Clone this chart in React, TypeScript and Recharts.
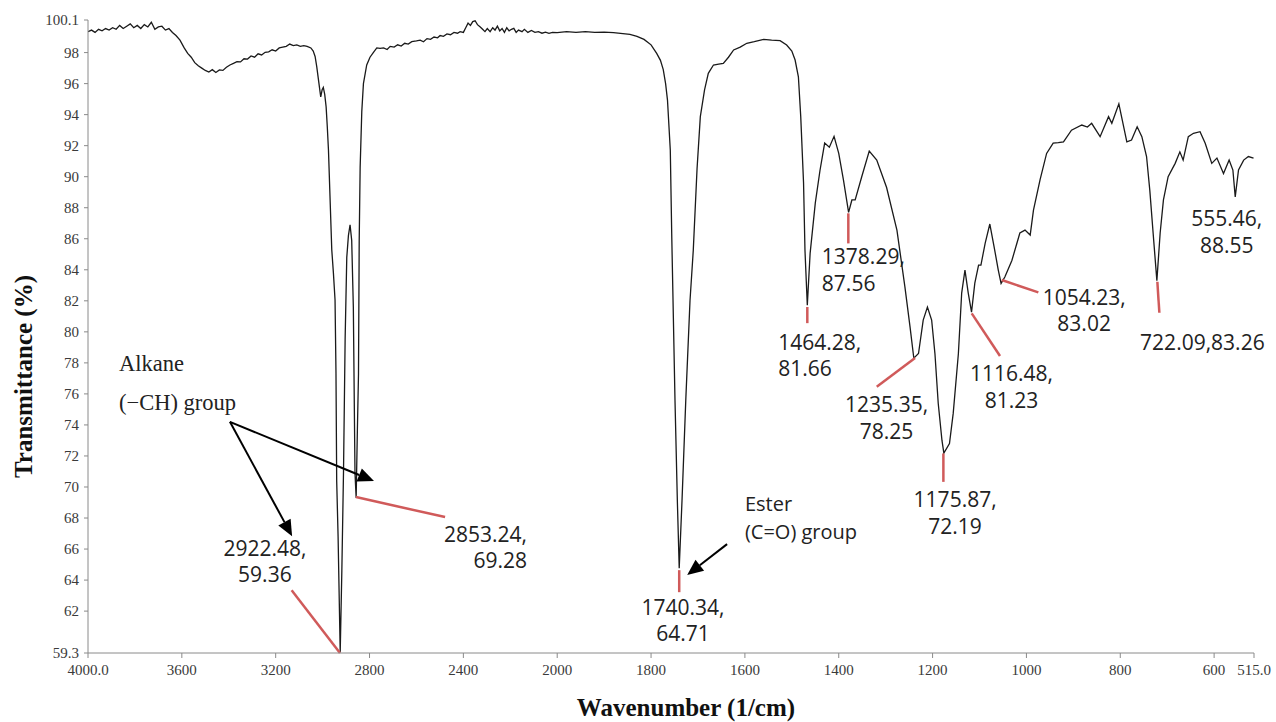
import { LineChart, Line, XAxis, YAxis, ReferenceLine, ReferenceDot } from 'recharts';

// FTIR spectrum (wavenumber 1/cm, transmittance %)
const wavenumbers = [
  4000, 3985, 3970, 3955, 3940, 3925, 3910, 3895, 3880, 3865, 3850, 3835, 3820, 3805, 3790, 3775, 3760, 3745, 3730, 3715,
  3700, 3685, 3670, 3655, 3640, 3625, 3608, 3590, 3575, 3560, 3545, 3530, 3515, 3500, 3485, 3470, 3455, 3440, 3425, 3410,
  3395, 3380, 3365, 3350, 3335, 3320, 3305, 3290, 3275, 3260, 3245, 3230, 3215, 3200, 3185, 3170, 3155, 3140, 3125, 3110,
  3095, 3080, 3066, 3050, 3040, 3032, 3025, 3019, 3012, 3008, 3002, 2997, 2991, 2985, 2980, 2975, 2968, 2961, 2954, 2947,
  2943, 2940, 2934, 2925, 2918, 2911, 2904, 2897, 2890, 2883, 2876, 2869, 2862, 2857, 2852, 2847, 2844, 2840, 2833, 2826,
  2812, 2798, 2784, 2769, 2755, 2740, 2725, 2712, 2695, 2680, 2665, 2650, 2635, 2620, 2600, 2584, 2570, 2555, 2540, 2525,
  2510, 2499, 2485, 2470, 2455, 2440, 2425, 2414, 2400, 2390, 2380, 2370, 2360, 2350, 2340, 2328, 2318, 2308, 2298, 2286,
  2275, 2265, 2255, 2245, 2235, 2225, 2215, 2205, 2195, 2185, 2175, 2165, 2150, 2140, 2125, 2110, 2095, 2080, 2065, 2050,
  2035, 2020, 2000, 1980, 1960, 1940, 1920, 1900, 1880, 1860, 1845, 1830, 1815, 1800, 1788, 1780, 1774, 1769, 1765, 1759,
  1756, 1749, 1744, 1740, 1734, 1726, 1717, 1710, 1702, 1695, 1686, 1678, 1667, 1656, 1646, 1635, 1624, 1610, 1596, 1580,
  1560, 1543, 1525, 1511, 1500, 1493, 1486, 1481, 1475, 1472, 1467, 1461, 1450, 1440, 1430, 1420, 1410, 1400, 1390, 1379,
  1372, 1365, 1351, 1335, 1319, 1298, 1276, 1259, 1248, 1240, 1230, 1220, 1211, 1202, 1195, 1188, 1180, 1176, 1164, 1156,
  1145, 1138, 1131, 1124, 1117, 1110, 1102, 1097, 1088, 1078, 1069, 1060, 1054, 1046, 1031, 1014, 1003, 992, 985, 971,
  957, 943, 932, 921, 904, 882, 870, 861, 843, 825, 818, 803, 786, 776, 764, 754, 744, 737, 730, 722,
  715, 708, 698, 683, 673, 666, 655, 644, 630, 619, 605, 594, 580, 568, 560, 555, 548, 537, 527, 516,
];

const transmittance = [
  99.35, 99.45, 99.3, 99.5, 99.4, 99.55, 99.45, 99.6, 99.5, 99.75, 99.55, 99.7, 99.85, 99.6, 99.75, 99.55, 99.8, 99.65, 99.95, 99.5,
  99.65, 99.7, 99.45, 99.55, 99.3, 99.1, 98.8, 98.3, 97.95, 97.7, 97.35, 97.15, 97.0, 96.85, 96.75, 96.9, 96.72, 96.88, 96.85, 97.05,
  97.2, 97.3, 97.42, 97.4, 97.6, 97.58, 97.78, 97.7, 97.92, 97.85, 98.02, 98.05, 98.18, 98.1, 98.3, 98.35, 98.4, 98.55, 98.45, 98.5,
  98.4, 98.45, 98.4, 98.3, 98.1, 97.75, 97.1, 96.4, 95.6, 95.15, 95.6, 95.75, 95.3, 94.5, 93.2, 91.7, 88.5, 85.3, 83.8, 82.05,
  77.35, 70.4, 66.8, 59.35, 64.6, 70.9, 79.5, 84.8, 86.2, 86.9, 85.9, 81.6, 70.9, 69.3, 73.5, 77.3, 85.9, 90.6, 94.2, 96.0,
  97.2, 97.7, 98.0, 98.3, 98.27, 98.3, 98.2, 98.4, 98.35, 98.5, 98.42, 98.6, 98.55, 98.7, 98.75, 98.8, 98.7, 98.9, 98.85, 99.0,
  98.95, 99.1, 99.05, 99.2, 99.15, 99.3, 99.25, 99.35, 99.3, 99.6, 99.9, 99.75, 100.0, 100.05, 99.8, 99.65, 99.5, 99.35, 99.55, 99.35,
  99.6, 99.45, 99.7, 99.4, 99.55, 99.3, 99.6, 99.4, 99.5, 99.56, 99.3, 99.45, 99.35, 99.5, 99.3, 99.42, 99.3, 99.35, 99.25, 99.32,
  99.24, 99.3, 99.28, 99.35, 99.3, 99.35, 99.3, 99.32, 99.28, 99.22, 99.18, 99.05, 98.85, 98.5, 97.95, 97.5, 96.9, 96.0, 94.94, 91.7,
  86.35, 75.6, 69.15, 64.77, 69.15, 75.6, 82.0, 85.27, 90.5, 93.87, 95.6, 96.66, 97.2, 97.25, 97.3, 97.7, 98.17, 98.35, 98.6, 98.7,
  98.85, 98.8, 98.77, 98.49, 98.1, 97.52, 96.44, 93.87, 89.6, 85.27, 81.72, 85.06, 88.3, 90.4, 92.17, 91.9, 92.6, 91.5, 89.8, 87.7,
  88.5, 88.5, 90.0, 91.65, 91.07, 89.3, 86.56, 82.9, 80.3, 78.3, 78.6, 80.76, 81.6, 80.76, 78.6, 75.4, 73.0, 72.18, 72.8, 74.76,
  78.6, 82.5, 83.98, 82.5, 81.27, 83.14, 84.3, 84.3, 85.7, 86.95, 85.5, 83.98, 83.12, 83.53, 84.6, 86.37, 86.56, 86.24, 87.85, 89.8,
  91.5, 92.17, 92.2, 92.25, 93.0, 93.33, 93.2, 93.44, 92.58, 93.87, 93.44, 94.7, 92.25, 92.36, 93.22, 92.58, 91.3, 89.1, 86.37, 83.3,
  86.37, 88.5, 90.0, 90.86, 91.6, 91.07, 92.58, 92.8, 92.9, 92.15, 90.86, 91.2, 90.2, 91.07, 90.43, 88.7, 90.43, 91.07, 91.3, 91.2,
];

const xTickValues = [4000, 3600, 3200, 2800, 2400, 2000, 1800, 1600, 1400, 1200, 1000, 800, 600, 515];
const xTickLabels = ['4000.0', '3600', '3200', '2800', '2400', '2000', '1800', '1600', '1400', '1200', '1000', '800', '600', '515.0'];
const yTickValues = [59.3, 62, 64, 66, 68, 70, 72, 74, 76, 78, 80, 82, 84, 86, 88, 90, 92, 94, 96, 98, 100.1];
const yTickLabels = yTickValues.map((v) => String(v));

// peak call-outs: red leader from the peak to the label
const leaders = [
  { from: [2926, 59.3], to: [3132, 63.35] },
  { from: [2858, 69.35], to: [2478, 68.06] },
  { from: [1740, 64.64], to: [1740, 63.22] },
  { from: [1467, 81.6], to: [1467, 80.56] },
  { from: [1379.6, 87.64], to: [1379.6, 85.7] },
  { from: [1237.4, 78.31], to: [1319, 76.46] },
  { from: [1177, 72.16], to: [1177, 70.33] },
  { from: [1116.6, 81.19], to: [1056.3, 78.44] },
  { from: [1052.6, 83.34], to: [974.6, 82.54] },
  { from: [721, 83.23], to: [716.7, 81.23] },
];

const peakLabels = [
  { lines: ['2922.48,', '59.36'], wn: 3246, t: 66.08, anchor: 'middle' },
  { lines: ['2853.24,', '69.28'], wn: 2129, t: 67.0, anchor: 'end' },
  { lines: ['1740.34,', '64.71'], wn: 1732, t: 62.27, anchor: 'middle' },
  { lines: ['1464.28,', '81.66'], wn: 1529, t: 79.36, anchor: 'start' },
  { lines: ['1378.29,', '87.56'], wn: 1436, t: 84.88, anchor: 'start' },
  { lines: ['1235.35,', '78.25'], wn: 1298, t: 75.32, anchor: 'middle' },
  { lines: ['1175.87,', '72.19'], wn: 1152, t: 69.22, anchor: 'middle' },
  { lines: ['1116.48,', '81.23'], wn: 1032, t: 77.32, anchor: 'middle' },
  { lines: ['1054.23,', '83.02'], wn: 877, t: 82.26, anchor: 'middle' },
  { lines: ['722.09,83.26'], wn: 625, t: 79.36, anchor: 'middle' },
  { lines: ['555.46,', '88.55'], wn: 573, t: 87.31, anchor: 'middle' },
];

const groupNotes = [
  { lines: ['Alkane', '(\u2212CH) group'], wn: 3868, t: 77.99, gap: 39, serif: true },
  { lines: ['Ester', '(C=O) group'], wn: 1600, t: 68.94, gap: 27.7, serif: false },
];

const arrows = [
  { from: [3395, 74.2], to: [2781, 70.38] },
  { from: [3395, 74.2], to: [3130, 66.83] },
  { from: [1638, 66.32], to: [1723, 64.32] },
];

// IR convention: the axis is compressed 2x above 2000 1/cm
const toAxis = (w: number) => (w > 2000 ? 2000 + (w - 2000) / 2 : w);

const data = wavenumbers.map((w, i) => ({ x: toAxis(w), t: transmittance[i] }));

const sans = "'Open Sans', sans-serif";
const serif = "'Liberation Serif', serif";
const axisGray = '#8a8a8a';

function arrowShape(p: any) {
  const { x1, y1, x2, y2 } = p;
  const a = Math.atan2(y2 - y1, x2 - x1);
  const len = 16;
  const half = 7;
  const bx = x2 - len * Math.cos(a);
  const by = y2 - len * Math.sin(a);
  const nx = -Math.sin(a);
  const ny = Math.cos(a);
  return (
    <g>
      <line x1={x1} y1={y1} x2={bx} y2={by} stroke="#000" strokeWidth={2} />
      <polygon
        points={`${x2},${y2} ${bx + nx * half},${by + ny * half} ${bx - nx * half},${by - ny * half}`}
        fill="#000"
      />
    </g>
  );
}

const tickStyle = { fontFamily: serif, fontSize: 15, fill: '#3a3a3a' };

function XTick(p: any) {
  return (
    <text x={p.x} y={p.y} dy="0.71em" textAnchor="middle" style={tickStyle}>
      {xTickLabels[p.index]}
    </text>
  );
}

function YTick(p: any) {
  return (
    <text x={p.x} y={p.y} dy="0.35em" textAnchor="end" style={tickStyle}>
      {yTickLabels[p.index]}
    </text>
  );
}

export default function App() {
  return (
    <div style={{ position: 'absolute', left: 0, top: 0, width: 1276, height: 722, background: '#fff' }}>
      <LineChart width={1276} height={722} data={data} margin={{ top: 20, right: 22, left: 0, bottom: 0 }}>
        <XAxis
          dataKey="x"
          type="number"
          domain={[515, 3000]}
          reversed
          allowDataOverflow
          ticks={xTickValues.map(toAxis)}
          interval={0}
          height={69}
          stroke={axisGray}
          tickSize={5}
          tickMargin={6}
          tick={<XTick />}
          label={{
            content: (props: any) => {
              const vb = props.viewBox;
              return (
                <text
                  x={vb.x + vb.width / 2 + 15}
                  y={vb.y + vb.height - 6}
                  textAnchor="middle"
                  style={{ fontFamily: serif, fontWeight: 'bold', fontSize: 25, fill: '#111' }}
                >
                  Wavenumber (1/cm)
                </text>
              );
            },
          }}
        />
        <YAxis
          type="number"
          domain={[59.3, 100.1]}
          allowDataOverflow
          ticks={yTickValues}
          interval={0}
          width={88}
          stroke={axisGray}
          tickSize={4}
          tickMargin={5}
          tick={<YTick />}
          label={{
            content: (props: any) => {
              const vb = props.viewBox;
              const cx = vb.x + 23;
              const cy = vb.y + vb.height / 2 + 40;
              return (
                <text
                  transform={`translate(${cx},${cy}) rotate(-90)`}
                  textAnchor="middle"
                  dy="0.35em"
                  style={{ fontFamily: serif, fontWeight: 'bold', fontSize: 25, fill: '#111' }}
                >
                  Transmittance (%)
                </text>
              );
            },
          }}
        />
        <Line
          type="linear"
          dataKey="t"
          stroke="#1a1a1a"
          strokeWidth={1.3}
          dot={false}
          activeDot={false}
          isAnimationActive={false}
        />
        {leaders.map((l, i) => (
          <ReferenceLine
            key={`ld${i}`}
            ifOverflow="visible"
            segment={[
              { x: toAxis(l.from[0]), y: l.from[1] },
              { x: toAxis(l.to[0]), y: l.to[1] },
            ]}
            stroke="#d05a5a"
            strokeWidth={2.5}
          />
        ))}
        {arrows.map((a, i) => (
          <ReferenceLine
            key={`ar${i}`}
            ifOverflow="visible"
            segment={[
              { x: toAxis(a.from[0]), y: a.from[1] },
              { x: toAxis(a.to[0]), y: a.to[1] },
            ]}
            shape={arrowShape}
          />
        ))}
        {peakLabels.map((l, i) => (
          <ReferenceDot
            key={`pl${i}`}
            ifOverflow="visible"
            x={toAxis(l.wn)}
            y={l.t}
            shape={(p: any) => (
              <text
                x={p.cx}
                y={p.cy}
                textAnchor={l.anchor as any}
                dominantBaseline="central"
                style={{ fontFamily: sans, fontSize: 21, fill: '#222' }}
              >
                {l.lines.map((s, k) => (
                  <tspan key={k} x={p.cx} dy={k === 0 ? 0 : 26.5}>
                    {s}
                  </tspan>
                ))}
              </text>
            )}
          />
        ))}
        {groupNotes.map((g, i) => (
          <ReferenceDot
            key={`gn${i}`}
            ifOverflow="visible"
            x={toAxis(g.wn)}
            y={g.t}
            shape={(p: any) => (
              <text
                x={p.cx}
                y={p.cy}
                textAnchor="start"
                dominantBaseline="central"
                style={{ fontFamily: g.serif ? serif : sans, fontSize: g.serif ? 22.5 : 20, fill: '#222' }}
              >
                {g.lines.map((s, k) => (
                  <tspan key={k} x={p.cx} dy={k === 0 ? 0 : g.gap}>
                    {s}
                  </tspan>
                ))}
              </text>
            )}
          />
        ))}
      </LineChart>
    </div>
  );
}
